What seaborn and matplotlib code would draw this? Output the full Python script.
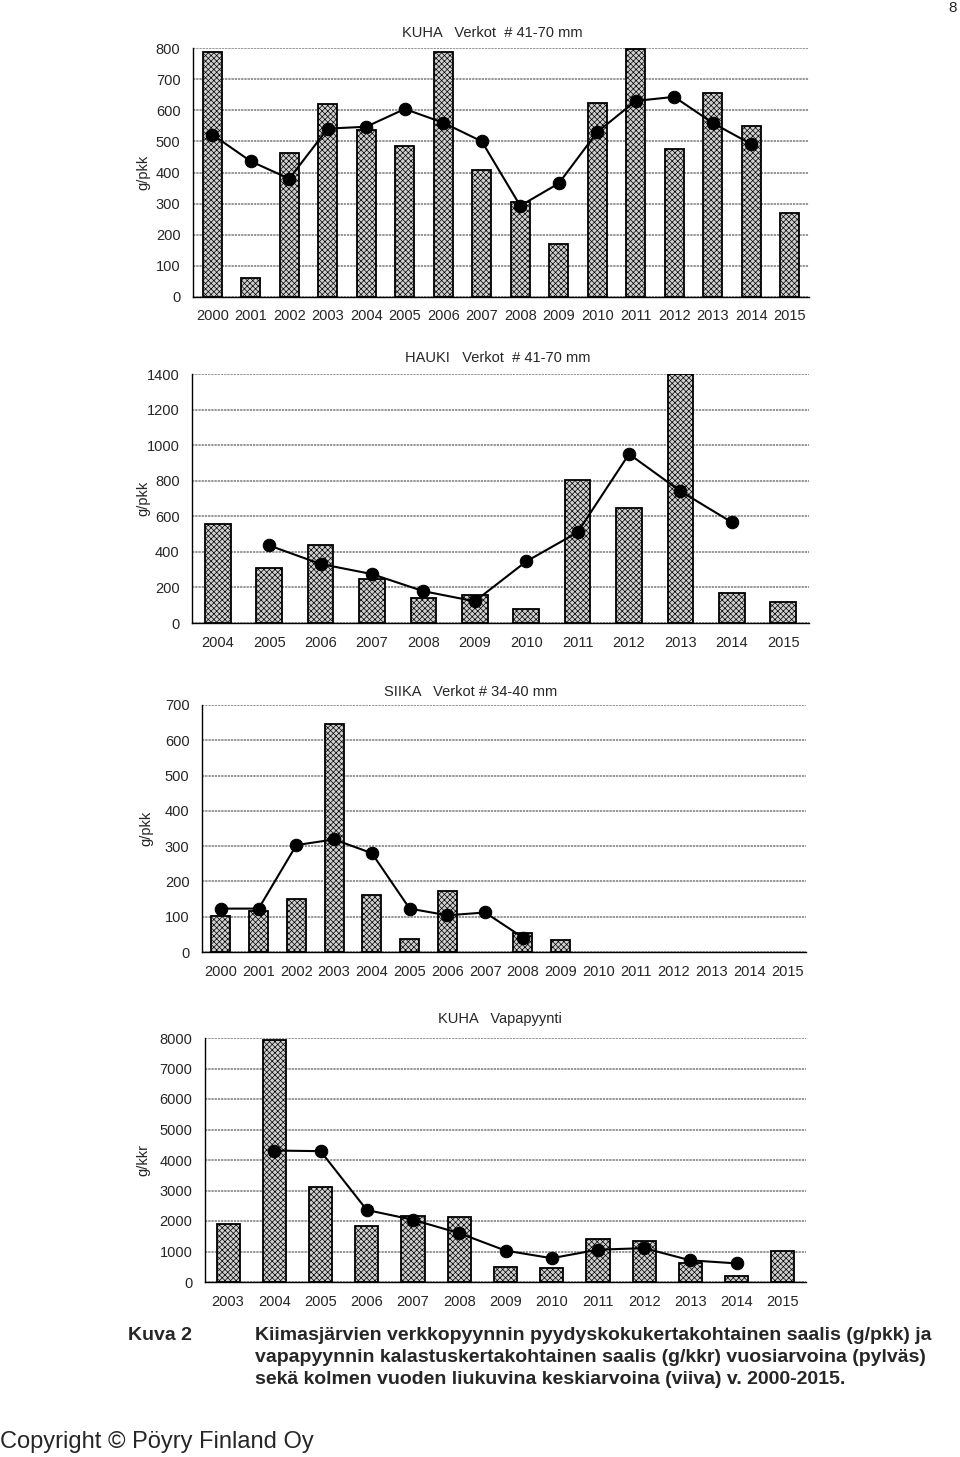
import numpy as np
import pandas as pd
import matplotlib
matplotlib.use('Agg')
import matplotlib.pyplot as plt
import seaborn as sns

nan = np.nan

# KUHA, verkot # 41-70 mm
kuha_years = [str(y) for y in range(2000, 2016)]
kuha_bars = [788, 61, 462, 621, 535, 485, 788, 407, 305, 170, 622, 797, 474, 657, 548, 269]
kuha_line = [522, 436, 380, 541, 547, 604, 560, 500, 293, 365, 530, 630, 643, 559, 491, nan]

# HAUKI, verkot # 41-70 mm
hauki_years = [str(y) for y in range(2004, 2016)]
hauki_bars = [558, 310, 440, 248, 140, 155, 77, 806, 647, 1400, 170, 118]
hauki_line = [nan, 436, 332, 275, 179, 122, 346, 510, 950, 741, 566, nan]

# SIIKA, verkot # 34-40 mm
siika_years = [str(y) for y in range(2000, 2016)]
siika_bars = [101, 116, 150, 645, 162, 36, 172, nan, 53, 33, nan, nan, nan, nan, nan, nan]
siika_line = [123, 123, 303, 319, 280, 123, 104, 112, 41, nan, nan, nan, nan, nan, nan, nan]

# KUHA, vapapyynti
vapa_years = [str(y) for y in range(2003, 2016)]
vapa_bars = [1890, 7950, 3100, 1820, 2160, 2120, 485, 455, 1400, 1330, 610, 200, 1030]
vapa_line = [nan, 4310, 4290, 2360, 2040, 1600, 1030, 780, 1060, 1110, 710, 610, nan]

sns.set_style('white')
plt.rcParams['font.family'] = ['Liberation Sans', 'DejaVu Sans']
plt.rcParams['hatch.linewidth'] = 0.5

fig = plt.figure(figsize=(9.6, 14.57), dpi=100)
H = 1457.0
W = 960.0
FS = 10.5


def panel(rect, years, bars, line, ymax, ystep, title, title_xy, ylabel, ylab_x):
    left, right, top, bottom = rect
    ax = fig.add_axes([left / W, 1 - bottom / H, (right - left) / W, (bottom - top) / H])
    df = pd.DataFrame({'year': years, 'value': bars}).dropna()
    sns.barplot(data=df, x='year', y='value', order=years, ax=ax, width=0.5,
                color='#d0d0d0', saturation=1, edgecolor='black', linewidth=1.3,
                hatch='xxxxxx')
    pos = np.arange(len(years))
    ld = pd.DataFrame({'pos': pos, 'avg': line}).dropna()
    sns.lineplot(data=ld, x='pos', y='avg', ax=ax, color='black', linewidth=1.5,
                 marker='o', markersize=9, markeredgecolor='black', zorder=5)
    n = len(years)
    ax.set_xlim(-0.5, n - 0.5)
    ax.set_ylim(0, ymax)
    ax.set_yticks(np.arange(0, ymax + 1, ystep))
    ax.set_xticks(pos)
    ax.set_xticklabels(years)
    ax.set_xticks(np.arange(n + 1) - 0.5, minor=True)
    ax.tick_params(axis='x', which='major', length=0, pad=9, labelsize=FS)
    ax.tick_params(axis='x', which='minor', length=5, width=1, direction='out', color='black')
    ax.tick_params(axis='y', length=4, width=1, direction='out', color='black', labelsize=FS, pad=5)
    ax.yaxis.grid(True, color='#7a7a7a', linewidth=1.1, linestyle=(0, (1.5, 0.6)))
    ax.set_axisbelow(True)
    for s in ['top', 'right']:
        ax.spines[s].set_visible(False)
    for s in ['left', 'bottom']:
        ax.spines[s].set_color('black')
        ax.spines[s].set_linewidth(1.0)
    ax.set_xlabel('')
    ax.set_ylabel(ylabel, fontsize=FS)
    ax.yaxis.set_label_coords((ylab_x - left) / (right - left), 0.5)
    fig.text(title_xy[0] / W, 1 - title_xy[1] / H, title, ha='center', va='center', fontsize=FS)
    return ax


panel((193, 809, 48, 297), kuha_years, kuha_bars, kuha_line, 800, 100,
      'KUHA   Verkot  # 41-70 mm', (492, 33), 'g/pkk', 150)
panel((192, 809, 374, 623), hauki_years, hauki_bars, hauki_line, 1400, 200,
      'HAUKI   Verkot  # 41-70 mm', (498, 358), 'g/pkk', 150)
panel((202, 806, 705, 952), siika_years, siika_bars, siika_line, 700, 100,
      'SIIKA   Verkot # 34-40 mm', (471, 692), 'g/pkk', 153)
panel((205, 806, 1038, 1282), vapa_years, vapa_bars, vapa_line, 8000, 1000,
      'KUHA   Vapapyynti', (500, 1019), 'g/kkr', 150)

fig.text(953 / W, 1 - 8 / H, '8', ha='center', va='center', fontsize=11)

fig.text(128 / W, 1 - 1335 / H, 'Kuva 2', ha='left', va='center', fontsize=14, fontweight='bold')
caption = ['Kiimasjärvien verkkopyynnin pyydyskokukertakohtainen saalis (g/pkk) ja',
           'vapapyynnin kalastuskertakohtainen saalis (g/kkr) vuosiarvoina (pylväs)',
           'sekä kolmen vuoden liukuvina keskiarvoina (viiva) v. 2000-2015.']
for i, line in enumerate(caption):
    fig.text(255 / W, 1 - (1335 + 22.5 * i) / H, line, ha='left', va='center',
             fontsize=14, fontweight='bold')

fig.text(0, 1 - 1442 / H, 'Copyright © Pöyry Finland Oy', ha='left', va='center', fontsize=17)

fig.savefig('out.png', dpi=100)
